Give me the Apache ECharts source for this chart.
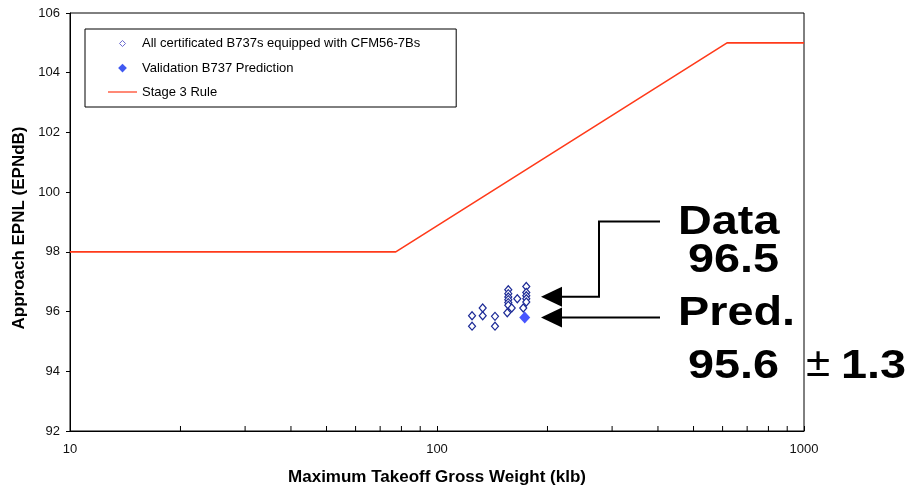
<!DOCTYPE html>
<html><head><meta charset="utf-8">
<script src="https://cdn.jsdelivr.net/npm/echarts@6/dist/echarts.min.js"></script>
<style>html,body{margin:0;padding:0;background:#fff}#c{width:915px;height:491px}</style>
</head><body><div id="c"></div>
<script>
// ---- data ----
const certWeights = [124.6,124.6,133.2,133.2,143.9,143.9,156.4,156.4,156.4,156.4,156.4,156.4,159.8,155.4,165.5,175.1,175.1,175.1,175.1,175.1,171.8];
const certEpnl    = [95.86,95.51,96.12,95.86,95.84,95.51,96.73,96.60,96.49,96.40,96.30,96.21,96.12,95.96,96.43,96.84,96.64,96.53,96.43,96.32,96.12];
const validWeight = [173.4];
const validEpnl   = [95.8];
const stageWeights = [10, 77.2, 617, 1000];
const stageEpnl    = [98, 98, 105, 105];
const minorTickValues = [20,30,40,50,60,70,80,90,200,300,400,500,600,700,800,900];
const yTicks = [92,94,96,98,100,102,104,106];
const annotDataValue = 96.5;
const annotPredMarker = 95.8;
const seriesNames = ['All certificated B737s equipped with CFM56-7Bs','Validation B737 Prediction','Stage 3 Rule'];

const FONT = '"Liberation Sans", Arial, sans-serif';
const chart = echarts.init(document.getElementById('c'), null, {renderer:'canvas'});
const diamond = 'path://M-2.3,-2.3M2.3,2.3M0,-1L1,0L0,1L-1,0Z';
const diamondF = 'path://M-1.6,-1.6M1.6,1.6M0,-1L1,0L0,1L-1,0Z';
const lineIcon = 'path://M0,6.4L29,6.4L29,7.6L0,7.6Z M0,0M29,14';

chart.setOption({
  backgroundColor:'#fff',
  animation:false,
  grid:{left:70,right:111,top:13,bottom:58,show:true,borderColor:'#000',borderWidth:1,backgroundColor:'#fff'},
  legend:{
    orient:'vertical', left:85, top:29, padding:[7,36,8,23], itemGap:10,
    itemWidth:29, itemHeight:14, borderColor:'#000', borderWidth:1, backgroundColor:'#fff',
    textStyle:{fontFamily:FONT,fontSize:13,color:'#000'},
    data:[
      {name:seriesNames[0], icon:diamond, itemStyle:{color:'#fff',borderColor:'#6a6ad0',borderWidth:1}},
      {name:seriesNames[1], icon:diamondF, itemStyle:{color:'#1030ee',borderWidth:0}},
      {name:seriesNames[2], icon:lineIcon, itemStyle:{color:'#ff3a1a',borderWidth:0}}
    ]
  },
  xAxis:{
    type:'log', logBase:10, min:10, max:1000,
    name:'Maximum Takeoff Gross Weight (klb)', nameLocation:'middle', nameGap:38,
    nameTextStyle:{fontFamily:FONT,fontSize:17,fontWeight:'bold',color:'#000'},
    axisLine:{lineStyle:{color:'#000',width:1}},
    axisTick:{show:true,inside:true,length:5,lineStyle:{color:'#000'}},
    axisLabel:{fontFamily:FONT,fontSize:13,color:'#111',margin:12,formatter:function(v){return String(Math.round(v));}},
    splitLine:{show:false}, minorTick:{show:false}
  },
  yAxis:{
    type:'value', min:yTicks[0], max:yTicks[yTicks.length-1], interval:2,
    name:'Approach EPNL (EPNdB)', nameLocation:'middle', nameGap:42, nameRotate:90,
    nameTextStyle:{fontFamily:FONT,fontSize:17,fontWeight:'bold',color:'#000',padding:[0,12,0,0]},
    axisLine:{show:true,lineStyle:{color:'#000',width:1}},
    axisTick:{show:true,inside:false,length:4,lineStyle:{color:'#000'}},
    axisLabel:{fontFamily:FONT,fontSize:13,color:'#111',margin:10},
    splitLine:{show:false}
  },
  series:[
    {
      name:seriesNames[2], type:'line', data:stageWeights.map((w,i)=>[w,stageEpnl[i]]),
      showSymbol:false, symbol:'none', lineStyle:{color:'#ff3a1a',width:1.6}, itemStyle:{color:'#ff3a1a'}, z:3
    },
    {
      name:seriesNames[0], type:'scatter', data:certWeights.map((w,i)=>[w,certEpnl[i]]),
      symbol:'diamond', symbolSize:[7,8], itemStyle:{color:'#fff',borderColor:'#1c2a96',borderWidth:1.2,opacity:1}, z:4
    },
    {
      name:seriesNames[1], type:'scatter', data:validWeight.map((w,i)=>[w,validEpnl[i]]),
      symbol:'diamond', symbolSize:[11,12], itemStyle:{color:'#1a2cff',borderWidth:0}, z:5
    },
    {
      type:'custom', silent:true, z:2,
      data:minorTickValues.map(v=>[v,yTicks[0]]),
      renderItem:function(params, api){
        const p = api.coord([api.value(0), api.value(1)]);
        return {type:'line', shape:{x1:p[0],y1:p[1],x2:p[0],y2:p[1]-5}, style:{stroke:'#000',lineWidth:1}};
      }
    }
  ]
});

// ---- annotation (arrows + labels) ----
const yData = chart.convertToPixel({gridIndex:0},[100, annotDataValue])[1];
const yPred = chart.convertToPixel({gridIndex:0},[100, annotPredMarker])[1];
const tipX = 541, baseX = 562, elbowX = 599, endX = 660, topY = 221.5;
const txt = (t,x,y)=>({type:'text', x:x, y:y, scaleX:1.17, z:100,
  style:{text:t, fontFamily:FONT, fontSize:40, fontWeight:'bold', fill:'#000', align:'left', verticalAlign:'middle'}});
chart.setOption({graphic:[
  {type:'polyline', z:100, shape:{points:[[baseX,yData],[elbowX,yData],[elbowX,topY],[endX,topY]]}, style:{stroke:'#000',lineWidth:2,fill:null}},
  {type:'polygon', z:100, shape:{points:[[tipX,yData],[baseX,yData-10],[baseX,yData+10]]}, style:{fill:'#000'}},
  {type:'line', z:100, shape:{x1:baseX,y1:yPred,x2:endX,y2:yPred}, style:{stroke:'#000',lineWidth:2}},
  {type:'polygon', z:100, shape:{points:[[tipX,yPred],[baseX,yPred-10],[baseX,yPred+10]]}, style:{fill:'#000'}},
  txt('Data',678,223),
  txt('96.5',688,261),
  txt('Pred.',678,314),
  txt('95.6',688,367),
  {type:'text', x:806, y:365, scaleX:1.1, z:100, style:{text:'\u00b1', fontFamily:FONT, fontSize:40, fill:'#000', align:'left', verticalAlign:'middle'}},
  txt('1.3',841,367)
]});
</script></body></html>
